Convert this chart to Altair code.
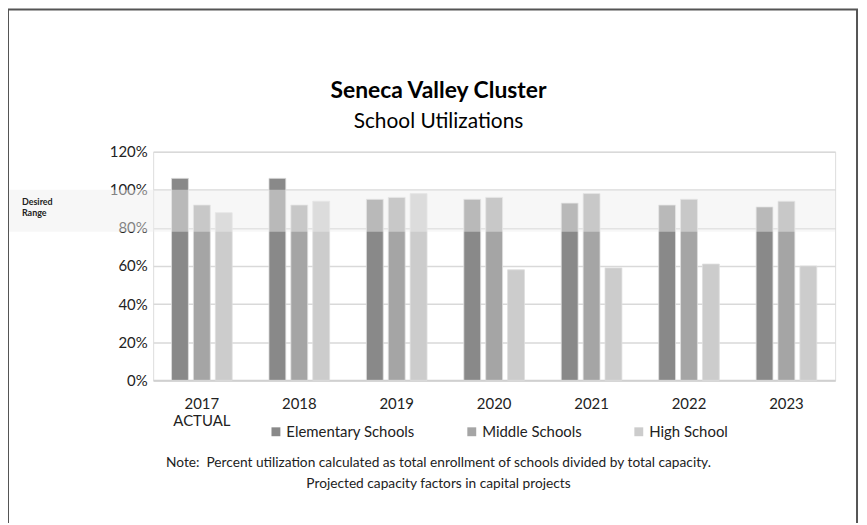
import altair as alt
import pandas as pd

years = ["2017", "2018", "2019", "2020", "2021", "2022", "2023"]
series = ["Elementary Schools", "Middle Schools", "High School"]
elementary = [106, 106, 95, 95, 93, 92, 91]
middle = [92, 92, 96, 96, 98, 95, 94]
high = [88, 94, 98, 58, 59, 61, 60]
colors = ["#898989", "#a5a5a5", "#cccccc"]
y_ticks = [0, 20, 40, 60, 80, 100, 120]
band_low, band_high = 78, 100
title_text = "Seneca Valley Cluster"
subtitle_text = "School Utilizations"
note_lines = [
    "Note:\u00a0 Percent utilization calculated as total enrollment of schools divided by total capacity.",
    "Projected capacity factors in capital projects",
]

rows = []
for i, yr in enumerate(years):
    for s, vals in zip(series, [elementary, middle, high]):
        rows.append({"year": yr, "school": s, "value": vals[i]})
df = pd.DataFrame(rows)

FONT = "Lato"
W, H = 686, 230

y_axis = alt.Axis(values=y_ticks, labelExpr="datum.value + '%'", labelOverlap=False,
                  domain=False, ticks=False, labelPadding=6, title=None,
                  labelFontSize=15, labelColor="#222", labelFont=FONT,
                  gridColor="#d9d9d9", gridWidth=1.5)
y_scale = alt.Scale(domain=[0, 120], nice=False)

bars = alt.Chart(df).mark_bar(stroke="#dedede", strokeWidth=0.8).encode(
    x=alt.X("year:N", sort=years, title=None,
            scale=alt.Scale(paddingInner=0, paddingOuter=0),
            axis=alt.Axis(labelAngle=0, ticks=False, labelPadding=16,
                          labelFontSize=15, labelColor="#222", labelFont=FONT,
                          domainColor="#d0d0d0", domainWidth=2,
                          labelExpr="datum.value == '2017' ? ['2017', 'ACTUAL'] : datum.value")),
    xOffset=alt.XOffset("school:N", sort=series,
                        scale=alt.Scale(paddingInner=0.23, paddingOuter=0.84)),
    y=alt.Y("value:Q", title=None, scale=y_scale, axis=y_axis),
    color=alt.Color("school:N", sort=series,
                    scale=alt.Scale(domain=series, range=colors),
                    legend=alt.Legend(title=None, orient="none", direction="horizontal",
                                      legendX=116, legendY=274,
                                      symbolType="square", symbolSize=80,
                                      symbolStrokeWidth=0, labelFontSize=15,
                                      labelFont=FONT, labelColor="#222",
                                      columnPadding=49, labelOffset=3)),
)

band_df = pd.DataFrame({"lo": [band_low], "hi": [band_high]})
band = alt.Chart(band_df).mark_rect(color="#eeeeee", opacity=0.48).encode(
    y=alt.Y("lo:Q", title=None, scale=y_scale, axis=y_axis), y2="hi:Q",
    x=alt.value(-146), x2=alt.value(W),
)

desired = alt.Chart(pd.DataFrame({"t": [["Desired", "Range"]]})).mark_text(
    align="left", baseline="top", fontSize=9, fontWeight="bold", font=FONT,
    color="#222", lineHeight=11,
).encode(text="t", x=alt.value(-132), y=alt.value(47))

title = alt.Chart(pd.DataFrame({"t": [title_text]})).mark_text(
    align="center", baseline="alphabetic", fontSize=23, fontWeight="bold",
    font=FONT, color="#000",
).encode(text="t", x=alt.value(287), y=alt.value(-54))

subtitle = alt.Chart(pd.DataFrame({"t": [subtitle_text]})).mark_text(
    align="center", baseline="alphabetic", fontSize=21, font=FONT, color="#000",
).encode(text="t", x=alt.value(287), y=alt.value(-24))

notes = alt.Chart(pd.DataFrame({"t": [note_lines]})).mark_text(
    align="center", baseline="top", fontSize=13.8, font=FONT, color="#222",
    lineHeight=21,
).encode(text="t", x=alt.value(287), y=alt.value(306))

frame = alt.Chart(pd.DataFrame({"a": [0]})).mark_rect(
    filled=False, stroke="#555555", strokeWidth=2,
).encode(x=alt.value(-146), x2=alt.value(708), y=alt.value(-143), y2=alt.value(500))

chart = alt.layer(bars, band, desired, title, subtitle, notes, frame).properties(
    width=W, height=H,
    autosize=alt.AutoSizeParams(type="none"),
    padding={"left": 146, "top": 143, "right": 24, "bottom": 142},
).configure_view(stroke=None).configure(background="white")

chart.save("out.html", embed_options={"renderer": "svg", "actions": False})
